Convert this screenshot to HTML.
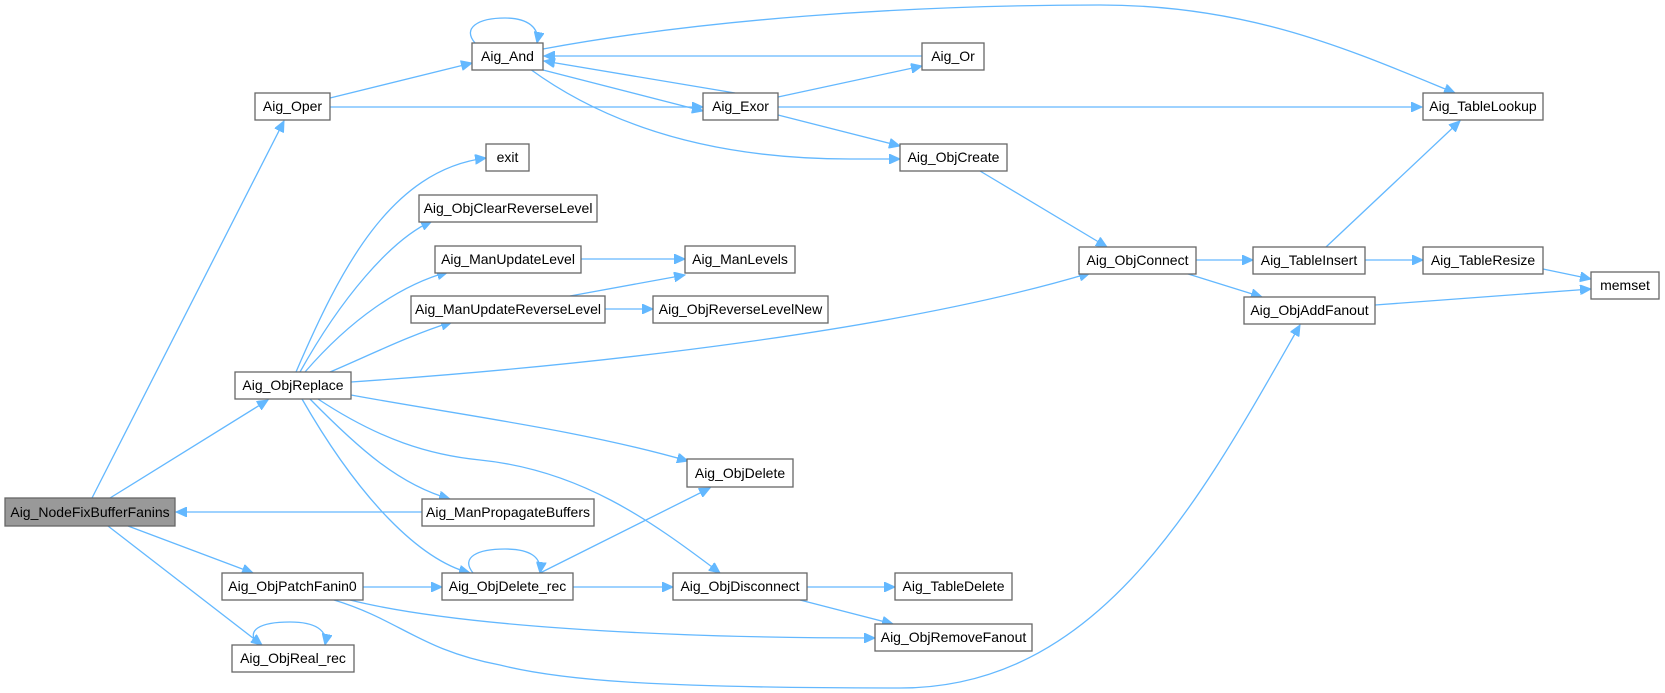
<!DOCTYPE html>
<html><head><meta charset="utf-8"><style>
body{margin:0;background:#fff;}
svg{display:block;}
text{font-family:"Liberation Sans",Arial,sans-serif;font-size:14px;fill:#000;}
.n{fill:#fff;stroke:#666;stroke-width:1.3;}
.e{fill:none;stroke:#63b8ff;stroke-width:1.3;marker-end:url(#a);}
</style></head><body>
<svg width="1665" height="693" viewBox="0 0 1665 693" xmlns="http://www.w3.org/2000/svg">
<defs><marker id="a" markerUnits="userSpaceOnUse" markerWidth="12" markerHeight="10" refX="11" refY="5" orient="auto"><path d="M0,0 L11,5 L0,10 z" fill="#63b8ff" stroke="#63b8ff"/></marker></defs>
<!-- edges -->
<path class="e" d="M92,498 L284,121"/>
<path class="e" d="M110,498 L268,400"/>
<path class="e" d="M422,512 L176,512"/>
<path class="e" d="M128,526 L253,573"/>
<path class="e" d="M108,526 L262,645"/>
<path class="e" d="M258,645 C245,630 260,622 290,622 C315,622 328,630 325,645"/>
<path class="e" d="M330,98 L472,63"/>
<path class="e" d="M330,107 L703,107"/>
<path class="e" d="M475,43 C462,28 478,18 505,18 C528,18 540,28 537,43"/>
<path class="e" d="M543,49 C700,20 900,5 1100,5 C1250,5 1350,50 1455,93"/>
<path class="e" d="M922,56 L544,56"/>
<path class="e" d="M735,93 L544,61"/>
<path class="e" d="M543,70 L703,111"/>
<path class="e" d="M530,69 C600,120 700,159 850,159 L900,159"/>
<path class="e" d="M778,97 L922,66"/>
<path class="e" d="M778,107 L1422,107"/>
<path class="e" d="M778,115 L900,146"/>
<path class="e" d="M980,171 L1107,247"/>
<path class="e" d="M1196,260 L1253,260"/>
<path class="e" d="M1185,273 L1262,297"/>
<path class="e" d="M1326,247 L1460,121"/>
<path class="e" d="M1365,260 L1423,260"/>
<path class="e" d="M1543,269 L1591,279"/>
<path class="e" d="M1375,305 L1591,289"/>
<path class="e" d="M296,372 C340,270 390,170 486,158"/>
<path class="e" d="M300,372 C340,300 390,240 432,221"/>
<path class="e" d="M305,372 C350,320 400,285 448,272"/>
<path class="e" d="M330,372 C370,355 410,335 452,322"/>
<path class="e" d="M351,382 C600,365 900,330 1090,273"/>
<path class="e" d="M351,395 C460,415 580,430 688,461"/>
<path class="e" d="M318,399 C380,440 430,455 480,460 C580,470 650,520 720,573"/>
<path class="e" d="M310,399 C360,450 400,485 450,499"/>
<path class="e" d="M302,399 C360,500 420,560 470,573"/>
<path class="e" d="M581,259 L685,259"/>
<path class="e" d="M570,296 L685,275"/>
<path class="e" d="M605,309 L653,309"/>
<path class="e" d="M363,587 L442,587"/>
<path class="e" d="M350,600 C450,625 650,638 875,638"/>
<path class="e" d="M334,600 C400,620 420,650 500,665 C560,680 650,688 900,688 C1100,688 1200,500 1300,325"/>
<path class="e" d="M473,573 C460,557 478,549 505,549 C530,549 542,557 540,573"/>
<path class="e" d="M540,573 L710,488"/>
<path class="e" d="M573,587 L673,587"/>
<path class="e" d="M807,587 L895,587"/>
<path class="e" d="M800,600 L893,624"/>
<!-- nodes -->
<rect x="5" y="498" width="170" height="28" fill="#999" stroke="#666" stroke-width="1.3"/><text x="90" y="517" text-anchor="middle">Aig_NodeFixBufferFanins</text>
<rect class="n" x="255" y="93" width="75" height="27"/><text x="292.5" y="111" text-anchor="middle">Aig_Oper</text>
<rect class="n" x="472" y="43" width="71" height="27"/><text x="507.5" y="61" text-anchor="middle">Aig_And</text>
<rect class="n" x="922" y="43" width="62" height="27"/><text x="953" y="61" text-anchor="middle">Aig_Or</text>
<rect class="n" x="703" y="93" width="75" height="27"/><text x="740.5" y="111" text-anchor="middle">Aig_Exor</text>
<rect class="n" x="1423" y="93" width="120" height="27"/><text x="1483" y="111" text-anchor="middle">Aig_TableLookup</text>
<rect class="n" x="900" y="144" width="107" height="27"/><text x="953.5" y="162" text-anchor="middle">Aig_ObjCreate</text>
<rect class="n" x="486" y="144" width="43" height="27"/><text x="507.5" y="162" text-anchor="middle">exit</text>
<rect class="n" x="419" y="195" width="178" height="27"/><text x="508" y="213" text-anchor="middle">Aig_ObjClearReverseLevel</text>
<rect class="n" x="435" y="246" width="146" height="27"/><text x="508" y="264" text-anchor="middle">Aig_ManUpdateLevel</text>
<rect class="n" x="685" y="246" width="110" height="27"/><text x="740" y="264" text-anchor="middle">Aig_ManLevels</text>
<rect class="n" x="411" y="296" width="194" height="27"/><text x="508" y="314" text-anchor="middle">Aig_ManUpdateReverseLevel</text>
<rect class="n" x="653" y="296" width="175" height="27"/><text x="740.5" y="314" text-anchor="middle">Aig_ObjReverseLevelNew</text>
<rect class="n" x="1079" y="247" width="117" height="27"/><text x="1137.5" y="265" text-anchor="middle">Aig_ObjConnect</text>
<rect class="n" x="1253" y="247" width="112" height="27"/><text x="1309" y="265" text-anchor="middle">Aig_TableInsert</text>
<rect class="n" x="1423" y="247" width="120" height="27"/><text x="1483" y="265" text-anchor="middle">Aig_TableResize</text>
<rect class="n" x="1591" y="272" width="68" height="27"/><text x="1625" y="290" text-anchor="middle">memset</text>
<rect class="n" x="1244" y="297" width="131" height="27"/><text x="1309.5" y="315" text-anchor="middle">Aig_ObjAddFanout</text>
<rect class="n" x="235" y="372" width="116" height="27"/><text x="293" y="390" text-anchor="middle">Aig_ObjReplace</text>
<rect class="n" x="687" y="459" width="106" height="28"/><text x="740" y="478" text-anchor="middle">Aig_ObjDelete</text>
<rect class="n" x="422" y="499" width="172" height="27"/><text x="508" y="517" text-anchor="middle">Aig_ManPropagateBuffers</text>
<rect class="n" x="222" y="573" width="141" height="27"/><text x="292.5" y="591" text-anchor="middle">Aig_ObjPatchFanin0</text>
<rect class="n" x="442" y="573" width="131" height="27"/><text x="507.5" y="591" text-anchor="middle">Aig_ObjDelete_rec</text>
<rect class="n" x="673" y="573" width="134" height="27"/><text x="740" y="591" text-anchor="middle">Aig_ObjDisconnect</text>
<rect class="n" x="895" y="573" width="117" height="27"/><text x="953.5" y="591" text-anchor="middle">Aig_TableDelete</text>
<rect class="n" x="875" y="624" width="157" height="27"/><text x="953.5" y="642" text-anchor="middle">Aig_ObjRemoveFanout</text>
<rect class="n" x="232" y="645" width="122" height="27"/><text x="293" y="663" text-anchor="middle">Aig_ObjReal_rec</text>
</svg>
</body></html>
